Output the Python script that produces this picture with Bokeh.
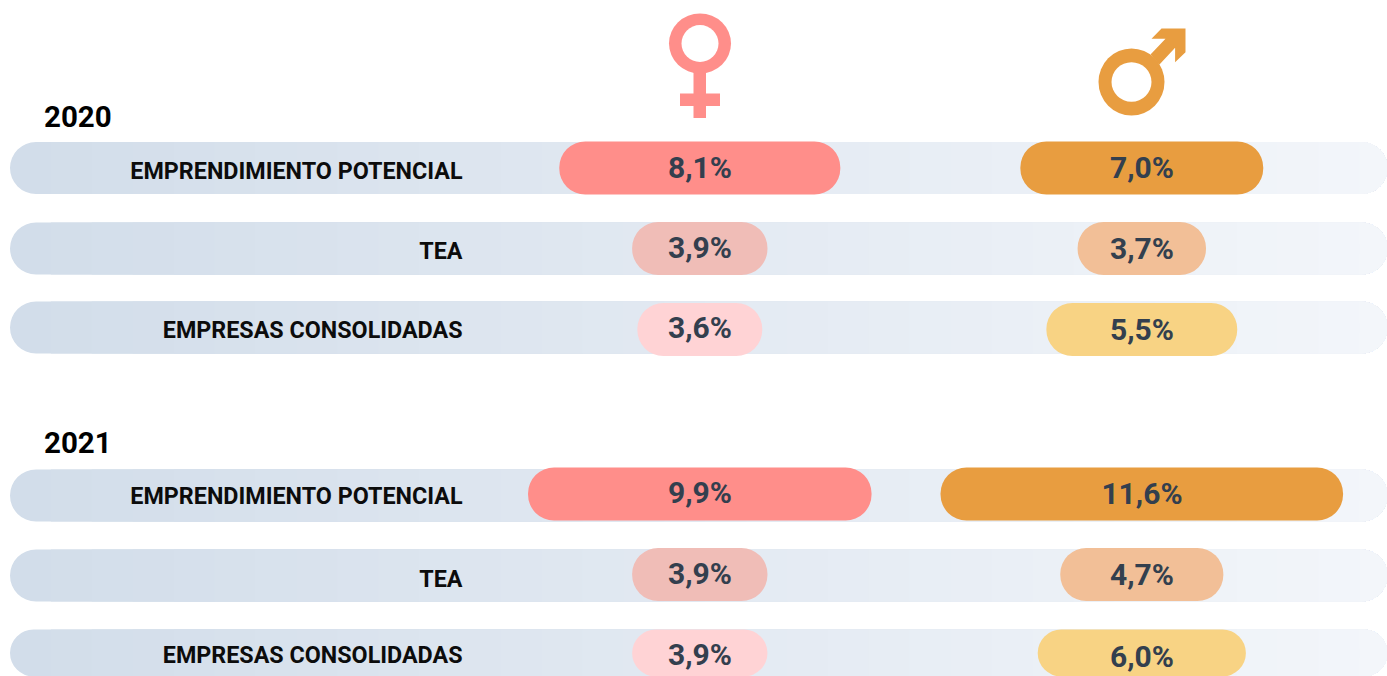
from bokeh.plotting import figure
from bokeh.models import Range1d, ColumnDataSource
from bokeh.core.properties import value
from bokeh.embed import file_html
from bokeh.resources import INLINE

years = ["2020", "2021"]
categories = ["EMPRENDIMIENTO POTENCIAL", "TEA", "EMPRESAS CONSOLIDADAS"] * 2
women = [8.1, 3.9, 3.6, 9.9, 3.9, 3.9]
men = [7.0, 3.7, 5.5, 11.6, 4.7, 6.0]

women_colors = ["#ff8e8a", "#f0bdb7", "#ffd3d5"] * 2
men_colors = ["#e89d40", "#f2bf97", "#f8d384"] * 2

W, H = 1387, 676
PX_PER_PCT = 34.7
FONT = "Roboto"

track_y = [167.5, 248, 327, 495, 575, 655]
women_y = [167.5, 248, 329, 493.5, 574, 655.5]
men_y = [167.5, 248, 329, 493.5, 574, 655.5]
women_text_y = [167, 246.5, 327, 491.5, 572.5, 653.5]
men_text_y = [167, 248, 329, 493, 574, 655.5]
BAR_H = 53

p = figure(width=W, height=H, output_backend="svg", toolbar_location=None,
           x_range=Range1d(0, W / PX_PER_PCT), y_range=Range1d(676, 0),
           min_border=0, outline_line_color=None, background_fill_color="white")
p.axis.visible = False
p.grid.visible = False
p.extra_x_ranges = {"px": Range1d(0, 1387)}

# gradient tracks: painter's order, each step runs to the end of the track
STEPS = 34
L, R = 9.5, 1400
c0, c1 = (210, 221, 234), (243, 246, 250)
for i in range(STEPS):
    t = i / (STEPS - 1)
    col = "#%02x%02x%02x" % tuple(round(a + (b - a) * t) for a, b in zip(c0, c1))
    x0 = L + (R - L) * i / STEPS
    rad = (26, 26, 26, 26) if i == 0 else (0, 26, 26, 0)
    p.hbar(y=track_y, left=x0, right=R, height=52, fill_color=col, line_color=None,
           border_radius=rad, x_range_name="px")

# value pills
c_w = 699.3 / PX_PER_PCT
c_m = 1141.3 / PX_PER_PCT
for vals, cols, ys, c in ((women, women_colors, women_y, c_w), (men, men_colors, men_y, c_m)):
    src = ColumnDataSource(dict(y=ys, l=[c - v / 2 for v in vals], r=[c + v / 2 for v in vals], col=cols))
    p.hbar(y="y", left="l", right="r", height=BAR_H, fill_color="col", line_color=None,
           border_radius=26, source=src)


def fmt(v):
    return f"{v:.1f}%".replace(".", ",")


for vals, ys, xc in ((women, women_text_y, 699.5), (men, men_text_y, 1141.5)):
    p.text(x=[xc] * 6, y=ys, text=[fmt(v) for v in vals], x_range_name="px",
           text_font=value(FONT), text_font_style="bold", text_font_size="30px",
           text_color="#333f4e", text_align="center", text_baseline="middle")

# row labels
p.text(x=[462] * 6, y=[170, 250, 329, 495, 578, 654], text=categories, x_range_name="px",
       text_font=value(FONT), text_font_style="bold", text_font_size="23.3px", text_color="#0c0c0c",
       text_align="right", text_baseline="middle")

# years
p.text(x=[43.5, 43.5], y=[116, 442], text=years, x_range_name="px",
       text_font=value(FONT), text_font_style="bold", text_font_size="29.5px",
       text_color="#000000", text_align="left", text_baseline="middle")

# female symbol
PINK, ORANGE = "#ff8e8a", "#e89d40"
p.quad(left=[693, 679.5], right=[705.5, 719.5], top=[70, 93], bottom=[117.5, 105.5],
       fill_color=PINK, line_color=None, x_range_name="px")
p.ellipse(x=[699.5], y=[43], width=[62], height=[60], fill_color=PINK, line_color=None, x_range_name="px")
p.ellipse(x=[699.5], y=[43], width=[37], height=[37], fill_color="white", line_color=None, x_range_name="px")

# male symbol
p.patch(x=[1161, 1185, 1185, 1174.6, 1174.6, 1159, 1150, 1165, 1151],
        y=[28, 28, 51.7, 61.7, 47.3, 64, 54, 38.3, 38.3],
        fill_color=ORANGE, line_color=None, x_range_name="px")
p.ellipse(x=[1131], y=[81.5], width=[66], height=[67], fill_color=ORANGE, line_color=None, x_range_name="px")
p.ellipse(x=[1131], y=[81.5], width=[40], height=[39.5], fill_color="white", line_color=None, x_range_name="px")

open("out.html", "w").write(file_html(p, INLINE))
